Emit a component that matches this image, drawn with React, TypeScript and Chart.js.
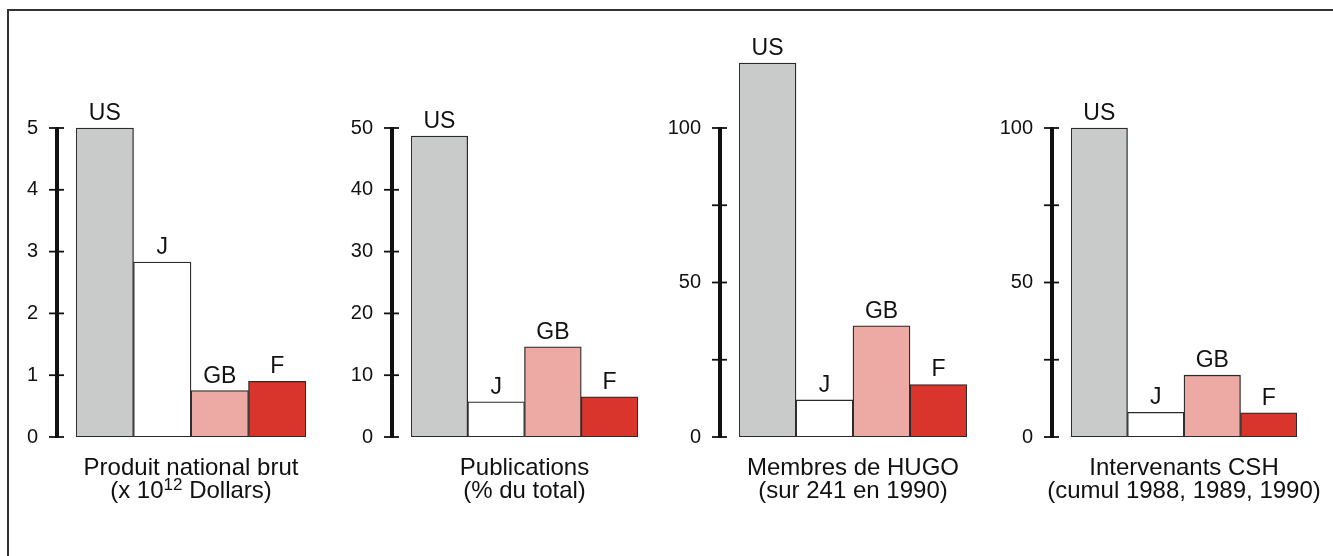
import React, { useEffect, useRef } from 'react';
import { Chart, registerables } from 'chart.js';

Chart.register(...registerables);

// ---------- data ----------
const countries = ['US', 'J', 'GB', 'F'];
const barColors = ['#c9cbca', '#ffffff', '#eda9a3', '#d9352c'];

const pnbValues = [5.0, 2.83, 0.75, 0.9];
const publicationValues = [48.7, 5.7, 14.6, 6.5];
const hugoValues = [121, 12, 36, 17];
const cshValues = [100, 8, 20, 7.8];

const pnbTicks = [0, 1, 2, 3, 4, 5];
const pnbTickLabels = ['0', '1', '2', '3', '4', '5'];
const publicationTicks = [0, 10, 20, 30, 40, 50];
const publicationTickLabels = ['0', '10', '20', '30', '40', '50'];
const hugoTicks = [0, 25, 50, 75, 100];
const hugoTickLabels = ['0', '', '50', '', '100'];
const cshTicks = [0, 25, 50, 75, 100];
const cshTickLabels = ['0', '', '50', '', '100'];

const pnbCaption = ['Produit national brut', '(x 10¹² Dollars)'];
const publicationCaption = ['Publications', '(% du total)'];
const hugoCaption = ['Membres de HUGO', '(sur 241 en 1990)'];
const cshCaption = ['Intervenants CSH', '(cumul 1988, 1989, 1990)'];

// ---------- layout / style ----------
const FONT = "'Liberation Sans', Arial, Helvetica, sans-serif";
const CANVAS_H = 556;
const AREA_TOP = 54;
const AREA_BOTTOM = 437;
const AXIS_TOP = 128;

type Panel = {
  left: number;
  width: number;
  yWidth: number;
  padRight: number;
  values: number[];
  ticks: number[];
  tickLabels: string[];
  caption: string[];
};

const panels: Panel[] = [
  { left: 2, width: 319, yWidth: 74, padRight: 15, values: pnbValues, ticks: pnbTicks, tickLabels: pnbTickLabels, caption: pnbCaption },
  { left: 337, width: 316, yWidth: 74, padRight: 15, values: publicationValues, ticks: publicationTicks, tickLabels: publicationTickLabels, caption: publicationCaption },
  { left: 664, width: 318, yWidth: 75, padRight: 15, values: hugoValues, ticks: hugoTicks, tickLabels: hugoTickLabels, caption: hugoCaption },
  { left: 997, width: 336, yWidth: 74, padRight: 36, values: cshValues, ticks: cshTicks, tickLabels: cshTickLabels, caption: cshCaption },
];

const SUP_MAP: Record<string, string> = {
  '⁰': '0', '¹': '1', '²': '2', '³': '3', '⁴': '4', '⁵': '5', '⁶': '6', '⁷': '7', '⁸': '8', '⁹': '9',
};

function drawRichCentered(ctx: CanvasRenderingContext2D, text: string, cx: number, y: number, size: number) {
  const runs: { t: string; sup: boolean }[] = [];
  for (const ch of text) {
    const sup = ch in SUP_MAP;
    const c = sup ? SUP_MAP[ch] : ch;
    if (runs.length && runs[runs.length - 1].sup === sup) runs[runs.length - 1].t += c;
    else runs.push({ t: c, sup });
  }
  const supSize = Math.round(size * 0.72);
  let total = 0;
  const widths = runs.map((r) => {
    ctx.font = `${r.sup ? supSize : size}px ${FONT}`;
    const w = ctx.measureText(r.t).width;
    total += w;
    return w;
  });
  let x = cx - total / 2;
  ctx.textAlign = 'left';
  ctx.textBaseline = 'alphabetic';
  runs.forEach((r, i) => {
    ctx.font = `${r.sup ? supSize : size}px ${FONT}`;
    ctx.fillText(r.t, x, r.sup ? y - size * 0.34 : y);
    x += widths[i];
  });
}

const decorPlugin = {
  id: 'panelDecor',
  afterDatasetsDraw(chart: any) {
    const ctx: CanvasRenderingContext2D = chart.ctx;
    const { chartArea } = chart;
    const yScale = chart.scales.y;
    const p: Panel = chart.options.plugins.panelDecor.panel;
    ctx.save();
    // axis
    const ax = chartArea.left - 19;
    const y0 = yScale.getPixelForValue(0);
    const yTop = yScale.getPixelForValue(p.ticks[p.ticks.length - 1]);
    ctx.strokeStyle = '#111';
    ctx.lineWidth = 4;
    ctx.beginPath();
    ctx.moveTo(ax, yTop - 1);
    ctx.lineTo(ax, y0 + 1);
    ctx.stroke();
    ctx.lineWidth = 1.8;
    p.ticks.forEach((v) => {
      const ty = yScale.getPixelForValue(v);
      ctx.beginPath();
      ctx.moveTo(ax - 8, ty);
      ctx.lineTo(ax + 7, ty);
      ctx.stroke();
    });
    // bar labels
    const meta = chart.getDatasetMeta(0);
    ctx.fillStyle = '#111';
    ctx.font = `23px ${FONT}`;
    ctx.textAlign = 'center';
    ctx.textBaseline = 'alphabetic';
    meta.data.forEach((el: any, i: number) => {
      ctx.fillText(countries[i], el.x, el.y - 8);
    });
    // captions
    const cx = (chartArea.left + chartArea.right) / 2;
    p.caption.forEach((line, i) => {
      drawRichCentered(ctx, line, cx, chartArea.bottom + 38 + i * 23, 24);
    });
    ctx.restore();
  },
};

function PanelChart({ panel }: { panel: Panel }) {
  const ref = useRef<HTMLCanvasElement>(null);
  useEffect(() => {
    if (!ref.current) return;
    const axisMax = panel.ticks[panel.ticks.length - 1];
    const scaleMax = (axisMax * (AREA_BOTTOM - AREA_TOP)) / (AREA_BOTTOM - AXIS_TOP);
    const chart = new Chart(ref.current, {
      type: 'bar',
      data: {
        labels: countries,
        datasets: [
          {
            data: panel.values,
            backgroundColor: barColors,
            borderColor: '#2a2a2a',
            borderWidth: 1.3,
            borderSkipped: false,
            barPercentage: 1,
            categoryPercentage: 1,
          },
        ],
      },
      options: {
        animation: false,
        responsive: true,
        maintainAspectRatio: false,
        layout: { padding: { top: AREA_TOP, bottom: CANVAS_H - AREA_BOTTOM, left: 0, right: panel.padRight } },
        plugins: {
          legend: { display: false },
          tooltip: { enabled: false },
          title: { display: false },
          panelDecor: { panel },
        } as any,
        scales: {
          x: { display: false },
          y: {
            min: 0,
            max: scaleMax,
            grid: { display: false, drawTicks: false },
            border: { display: false },
            afterBuildTicks: (scale: any) => {
              scale.ticks = panel.ticks.map((v) => ({ value: v }));
            },
            afterFit: (scale: any) => {
              scale.width = panel.yWidth;
            },
            ticks: {
              autoSkip: false,
              padding: 38,
              color: '#111',
              font: { size: 20, family: FONT },
              callback: (value: any) => {
                const idx = panel.ticks.indexOf(Number(value));
                return idx >= 0 ? panel.tickLabels[idx] : '';
              },
            },
          },
        },
      },
      plugins: [decorPlugin],
    });
    return () => chart.destroy();
  }, [panel]);
  return (
    <div style={{ position: 'absolute', left: panel.left, top: 0, width: panel.width, height: CANVAS_H }}>
      <canvas ref={ref} />
    </div>
  );
}

export default function App() {
  return (
    <div style={{ position: 'absolute', left: 0, top: 0, width: 1333, height: 556, background: '#ffffff', overflow: 'hidden' }}>
      <div
        style={{
          position: 'absolute',
          left: 7,
          top: 9,
          right: -4,
          bottom: -4,
          borderTop: '2px solid #333',
          borderLeft: '2px solid #333',
        }}
      />
      {panels.map((p, i) => (
        <PanelChart key={i} panel={p} />
      ))}
    </div>
  );
}
